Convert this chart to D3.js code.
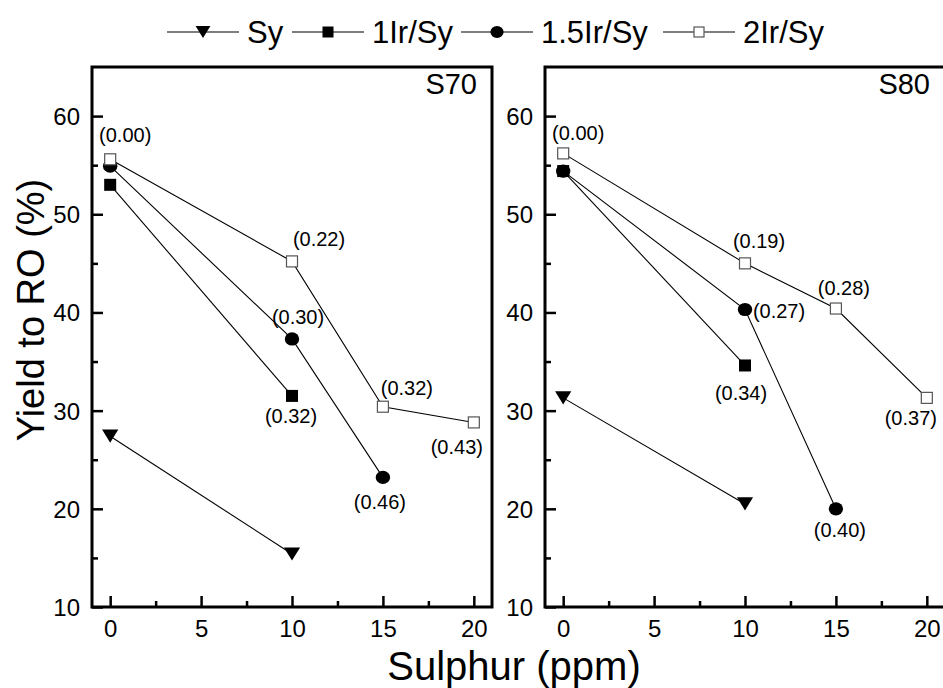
<!DOCTYPE html>
<html>
<head>
<meta charset="utf-8">
<script src="https://cdn.jsdelivr.net/npm/d3@7"></script>
<style>
  body { margin: 0; background: #fff; }
  svg { display: block; font-family: "Liberation Sans", Arial, sans-serif; }
</style>
</head>
<body>
<div class="chart"></div>
<script>
// data
const seriesNames = ['Sy', '1Ir/Sy', '1.5Ir/Sy', '2Ir/Sy'];
const seriesX = [[0, 10], [0, 10], [0, 10, 15], [0, 10, 15, 20]];

const s70Y = [[27.4, 15.4], [53.0, 31.5], [54.9, 37.3, 23.2], [55.6, 45.2, 30.4, 28.8]];
const s80Y = [[31.3, 20.5], [54.4, 34.6], [54.4, 40.3, 20.0], [56.2, 45.0, 40.4, 31.3]];

// point labels: [series index, point index, text]
const s70Labels = [[3, 0, '(0.00)'], [3, 1, '(0.22)'], [2, 1, '(0.30)'], [1, 1, '(0.32)'],
                   [3, 2, '(0.32)'], [3, 3, '(0.43)'], [2, 2, '(0.46)']];
const s80Labels = [[3, 0, '(0.00)'], [3, 1, '(0.19)'], [3, 2, '(0.28)'], [2, 1, '(0.27)'],
                   [1, 1, '(0.34)'], [3, 3, '(0.37)'], [2, 2, '(0.40)']];

const xTicks = [0, 5, 10, 15, 20];
const xMinor = [2.5, 7.5, 12.5, 17.5];
const yTicks = [10, 20, 30, 40, 50, 60];
const yMinor = [15, 25, 35, 45, 55];

// label offsets (px) from their point, same order as the label lists
const s70Offsets = [[15, -24], [27, -22], [6, -22], [-1, 20], [24, -19], [-17, 25], [-3, 25]];
const s80Offsets = [[15, -20], [14, -22], [8, -21], [34, 1], [-4, 28], [-16, 20], [4, 21]];

const W = 943, H = 688;
const svg = d3.select('.chart').append('svg')
              .attr('width', W)
              .attr('height', H);

const yScale = d3.scaleLinear().domain([10, 65]).range([607, 67]);

function marker(g, s, size) {
  if (s === 0) {
    const w = size * 1.35, h = size * 1.1;
    g.append('path').attr('d', `M${-w/2},${-h/2}L${w/2},${-h/2}L0,${h/2}Z`).attr('fill', '#000');
  } else if (s === 1) {
    g.append('rect').attr('x', -size/2).attr('y', -size/2).attr('width', size).attr('height', size).attr('fill', '#000');
  } else if (s === 2) {
    g.append('ellipse').attr('rx', size * 0.6).attr('ry', size * 0.55).attr('fill', '#000');
  } else {
    g.append('rect').attr('x', -size/2 + 0.5).attr('y', -size/2 + 0.5).attr('width', size - 1).attr('height', size - 1)
     .attr('fill', '#fff').attr('stroke', '#555').attr('stroke-width', 1.2);
  }
}

function panel(left, right, values, labels, offsets, title) {
  const x = d3.scaleLinear().domain([-1, 21]).range([left, right]);
  const g = svg.append('g');

  // series lines
  values.forEach((ys, s) => {
    const pts = ys.map((v, i) => [x(seriesX[s][i]), yScale(v)]);
    g.append('path').attr('d', d3.line()(pts))
     .attr('fill', 'none').attr('stroke', '#000').attr('stroke-width', 1.1);
  });
  // markers
  values.forEach((ys, s) => {
    ys.forEach((v, i) => {
      const m = g.append('g').attr('transform', `translate(${x(seriesX[s][i])},${yScale(v)})`);
      marker(m, s, 12);
    });
  });

  // point labels
  labels.forEach((l, k) => {
    const [s, i, t] = l;
    g.append('text').text(t)
     .attr('x', x(seriesX[s][i]) + offsets[k][0])
     .attr('y', yScale(values[s][i]) + offsets[k][1])
     .attr('text-anchor', 'middle')
     .attr('dominant-baseline', 'central')
     .attr('font-size', 20);
  });

  // axes, ticks inward
  g.append('g').attr('transform', 'translate(0,607)')
   .call(d3.axisBottom(x).tickValues(xTicks).tickSize(-11).tickPadding(13));
  g.append('g').attr('transform', 'translate(0,607)')
   .call(d3.axisBottom(x).tickValues(xMinor).tickSize(-6).tickFormat(''));
  const ay = g.append('g').attr('transform', `translate(${left},0)`)
              .call(d3.axisLeft(yScale).tickValues(yTicks).tickSize(-11).tickPadding(12));
  g.append('g').attr('transform', `translate(${left},0)`)
   .call(d3.axisLeft(yScale).tickValues(yMinor).tickSize(-6).tickFormat(''));

  g.selectAll('.domain').remove();
  g.selectAll('.tick line').attr('stroke', '#000').attr('stroke-width', 2.5);
  g.selectAll('.tick text').attr('font-size', 24).attr('fill', '#000')
   .attr('font-family', '"Liberation Sans", Arial, sans-serif');
  ay.selectAll('.tick text').attr('dy', '0.35em');

  // frame
  g.append('rect').attr('x', left).attr('y', 67)
   .attr('width', right - left).attr('height', 540)
   .attr('fill', 'none').attr('stroke', '#000').attr('stroke-width', 3);

  g.append('text').text(title)
   .attr('x', right - 15).attr('y', 94)
   .attr('text-anchor', 'end').attr('font-size', 29);
}

panel(92, 492, s70Y, s70Labels, s70Offsets, 'S70');
panel(545, 945, s80Y, s80Labels, s80Offsets, 'S80');

// axis titles
svg.append('text').text('Yield to RO (%)')
   .attr('transform', 'translate(44,310) rotate(-90)')
   .attr('text-anchor', 'middle').attr('font-size', 38);
svg.append('text').text('Sulphur (ppm)')
   .attr('x', 514).attr('y', 680)
   .attr('text-anchor', 'middle').attr('font-size', 40);

// legend
const legendX = [167, 292, 461, 663];
const leg = svg.append('g');
seriesNames.forEach((name, s) => {
  const lx = legendX[s];
  leg.append('line').attr('x1', lx).attr('x2', lx + 72).attr('y1', 32).attr('y2', 32)
     .attr('stroke', '#000').attr('stroke-width', 1.1);
  const m = leg.append('g').attr('transform', `translate(${lx + 36},32)`);
  marker(m, s, 11);
  leg.append('text').text(name)
     .attr('x', lx + 80).attr('y', 32)
     .attr('dominant-baseline', 'central')
     .attr('font-size', 31);
});
</script>
</body>
</html>
